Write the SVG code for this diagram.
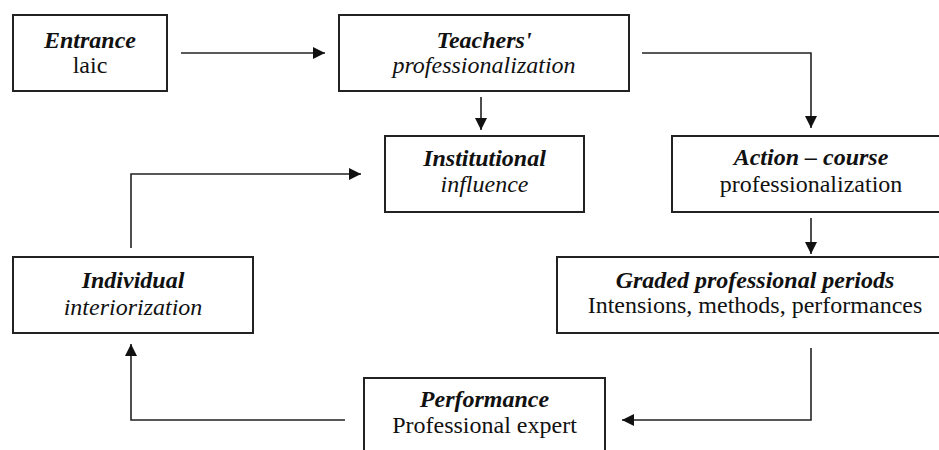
<svg xmlns="http://www.w3.org/2000/svg" width="939" height="450" viewBox="0 0 939 450">
<defs>
<marker id="ah" viewBox="0 0 12 12" refX="12" refY="6" markerWidth="12" markerHeight="12" markerUnits="userSpaceOnUse" orient="auto">
<path d="M0,0 L12,6 L0,12 Z" fill="#111"/>
</marker>
<style>
.box{fill:#fff;stroke:#222;stroke-width:2}
.c{fill:none;stroke:#222;stroke-width:1.6;marker-end:url(#ah)}
text{font-family:"Times New Roman","Liberation Serif",serif;font-size:24px;fill:#111;text-anchor:middle}
.b{font-weight:bold;font-style:italic}
.i{font-style:italic}
</style>
</defs>
<rect width="939" height="450" fill="#fff"/>
<g id="connectors">
<path class="c" d="M181,53 H325"/>
<path class="c" d="M642,53 H811 V128"/>
<path class="c" d="M481,97 V130"/>
<path class="c" d="M811,218 V254"/>
<path class="c" d="M811,348 V420 H622"/>
<path class="c" d="M345,420 H131 V344"/>
<path class="c" d="M131,248 V174 H361"/>
</g>
<g id="entrance">
<rect class="box" x="13" y="15" width="154" height="76"/>
<text class="b" x="90" y="48">Entrance</text>
<text x="90" y="73">laic</text>
</g>
<g id="teachers">
<rect class="box" x="339" y="15" width="290" height="76"/>
<text class="b" x="484" y="48">Teachers'</text>
<text class="i" x="484" y="73">professionalization</text>
</g>
<g id="institutional">
<rect class="box" x="385" y="136" width="199" height="76"/>
<text class="b" x="484.5" y="166">Institutional</text>
<text class="i" x="484.5" y="192">influence</text>
</g>
<g id="action">
<rect class="box" x="672" y="136" width="278" height="76"/>
<text class="b" x="811" y="165">Action – course</text>
<text x="811" y="192">professionalization</text>
</g>
<g id="graded">
<rect class="box" x="557" y="257" width="396" height="76"/>
<text class="b" x="755" y="288">Graded professional periods</text>
<text x="755" y="313">Intensions, methods, performances</text>
</g>
<g id="individual">
<rect class="box" x="13" y="257" width="240" height="76"/>
<text class="b" x="133" y="288">Individual</text>
<text class="i" x="133" y="315">interiorization</text>
</g>
<g id="performance">
<rect class="box" x="364" y="378" width="241" height="90"/>
<text class="b" x="484.5" y="407">Performance</text>
<text x="484.5" y="433">Professional expert</text>
</g>
</svg>
